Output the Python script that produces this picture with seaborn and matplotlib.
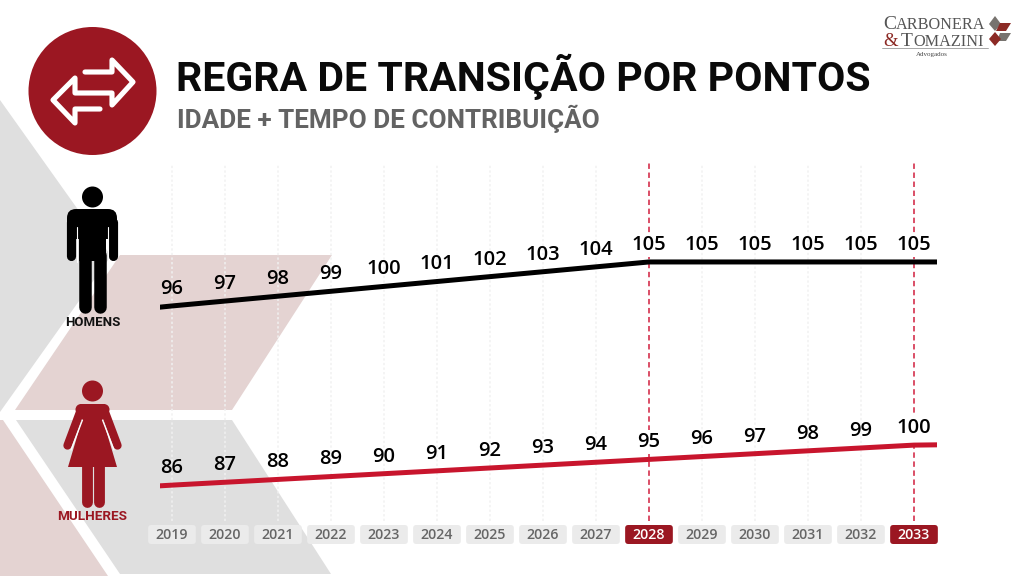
import pandas as pd
import matplotlib
matplotlib.use("Agg")
import matplotlib.pyplot as plt
from matplotlib.patches import Polygon, Circle, FancyBboxPatch, Rectangle
import seaborn as sns

years = [2019, 2020, 2021, 2022, 2023, 2024, 2025, 2026, 2027, 2028, 2029, 2030, 2031, 2032, 2033]
homens = [96, 97, 98, 99, 100, 101, 102, 103, 104, 105, 105, 105, 105, 105, 105]
mulheres = [86, 87, 88, 89, 90, 91, 92, 93, 94, 95, 96, 97, 98, 99, 100]
destaque = [2028, 2033]

# the drawn lines run a little past the first and last year
line_years = [2018.77] + years + [2033.43]
homens_line = [95.75] + homens + [105]
mulheres_line = [85.75] + mulheres + [100.1]

W, H = 1024, 576
RED = "#9b1722"
LINE_RED = "#c8152d"
GRAY_BG = "#dfdfdf"
PINK_BG = "#e4d3d2"
HEAD_FONT = ["Roboto", "DejaVu Sans"]
NUM_FONT = ["Open Sans", "DejaVu Sans"]

sns.set_theme(style="white")
plt.rcParams["font.family"] = ["Open Sans", "DejaVu Sans"]

fig = plt.figure(figsize=(W / 100, H / 100), dpi=100, facecolor="white")


def px_axes(x0, y0, x1, y1, z):
    ax = fig.add_axes([x0 / W, 1 - y1 / H, (x1 - x0) / W, (y1 - y0) / H], zorder=z)
    ax.patch.set_alpha(0)
    ax.axis("off")
    return ax


bg = px_axes(0, 0, W, H, 0)
bg.set_xlim(0, W)
bg.set_ylim(H, 0)

# background shapes
bg.add_patch(Polygon([(0, 100), (111, 256), (0, 412)], color=GRAY_BG, lw=0))
bg.add_patch(Polygon([(120, 255), (332, 255), (232, 410), (15, 410)], color=PINK_BG, lw=0))
bg.add_patch(Polygon([(16, 420), (232, 420), (331, 574), (120, 574)], color=GRAY_BG, lw=0))
bg.add_patch(Polygon([(0, 420), (3, 420), (108, 576), (0, 576)], color=PINK_BG, lw=0))

# icon with the two arrows
bg.add_patch(Circle((92.5, 91), 64, color=RED, lw=0))
arrows = [(85, 72), (112, 72), (112, 60), (133, 82), (112, 105), (112, 93), (75, 93),
          (75, 78), (53, 100), (75, 123), (75, 109), (100, 109)]
bg.plot(*zip(*arrows), color="white", lw=3.7, solid_capstyle="round", solid_joinstyle="round")

# titles
bg.text(176, 91, "REGRA DE TRANSIÇÃO POR PONTOS", fontsize=29.5, fontweight="bold",
        family=HEAD_FONT, color="#0a0a0a", va="baseline")
bg.text(177, 128, "IDADE + TEMPO DE CONTRIBUIÇÃO", fontsize=18.8, fontweight="bold",
        family=HEAD_FONT, color="#636363", va="baseline")

# man pictogram
bg.add_patch(Circle((92.5, 197), 10.5, color="black", lw=0))
bg.add_patch(FancyBboxPatch((67, 209), 50, 30, boxstyle="round,pad=0,rounding_size=9", color="black", lw=0))
bg.add_patch(Rectangle((79, 215), 27, 46, color="black", lw=0))
for x in (71.3, 112.7):
    bg.plot([x, x], [222, 256], color="black", lw=6.6, solid_capstyle="round")
for x in (85.2, 99.6):
    bg.plot([x, x], [255, 307], color="black", lw=9, solid_capstyle="round")
bg.plot([76.8, 76.8], [227, 262], color="white", lw=0.8)
bg.plot([107.6, 107.6], [227, 262], color="white", lw=0.8)
bg.text(92.5, 323, "HOMENS", fontsize=9.5, fontweight="bold", ha="center", va="center",
        color="#111111", family=HEAD_FONT)

# woman pictogram
bg.add_patch(Circle((92.5, 391), 10.5, color=RED, lw=0))
bg.add_patch(Circle((81, 409.5), 5.5, color=RED, lw=0))
bg.add_patch(Circle((104, 409.5), 5.5, color=RED, lw=0))
bg.plot([81, 67.5], [409.5, 445.5], color=RED, lw=6, solid_capstyle="round")
bg.plot([104, 117.5], [409.5, 445.5], color=RED, lw=6, solid_capstyle="round")
bg.add_patch(Polygon([(81, 404), (104, 404), (109, 410), (103, 420), (117, 467), (68, 467), (82, 420), (76, 410)],
                     color=RED, lw=0))
bg.plot([82.5, 71], [420, 450], color="white", lw=0.9)
bg.plot([102.5, 114], [420, 450], color="white", lw=0.9)
for x in (86.5, 98.5):
    bg.plot([x, x], [465, 502], color=RED, lw=7.8, solid_capstyle="round")
bg.text(92.5, 517, "MULHERES", fontsize=9.7, fontweight="bold", ha="center", va="center",
        color=RED, family=HEAD_FONT)

# logo, capitals a bit taller than the rest
bg.text(883, 29, "C", fontsize=14, family="Liberation Serif", color="#555555", va="baseline")
bg.text(896, 29, "ARBONERA", fontsize=11.7, family="Liberation Serif", color="#555555", va="baseline")
bg.text(883, 45.5, "&", fontsize=13.5, family="Liberation Serif", color="#8c2a25", va="baseline")
bg.text(901, 45.5, "T", fontsize=14, family="Liberation Serif", color="#555555", va="baseline")
bg.text(913, 45.5, "OMAZINI", fontsize=11.7, family="Liberation Serif", color="#555555", va="baseline")
bg.plot([882, 988], [47.5, 47.5], color="#999999", lw=0.6)
bg.text(932, 54.5, "Advogados", fontsize=5, family="Liberation Serif", color="#444444", ha="center", va="center")
bg.add_patch(Polygon([(989, 24), (995, 16), (1001, 24), (995, 31)], color="#77736f", lw=0))
bg.add_patch(Polygon([(1000, 23), (1011, 23), (1006, 31), (996, 31)], color="#8c2a25", lw=0))
bg.add_patch(Polygon([(1000, 33), (1011, 33), (1006, 41), (997, 41)], color="#77736f", lw=0))
bg.add_patch(Polygon([(989, 39), (995, 32), (1001, 39), (995, 46)], color="#8c2a25", lw=0))

# one scale per series, the two lines do not share slope in the original
x_lim = (2018.774, 2033.434)
ax_h = px_axes(160, 162, 937, 522, 2)
ax_m = px_axes(160, 162, 937, 522, 3)
ax_h.set_xlim(*x_lim)
ax_m.set_xlim(*x_lim)
ax_h.set_ylim(51.8, 125.45)
ax_m.set_ylim(73.1, 199.05)

ax_h.vlines([y for y in years if y not in destaque], 52, 125, color="#f1f1f1", lw=1.1, ls=(0, (1.5, 1.5)))
ax_h.vlines(destaque, 52, 125.45, color="#d8405a", lw=1.3, ls=(0, (3, 2)))

df_h = pd.DataFrame({"ano": line_years, "pontos": homens_line})
df_m = pd.DataFrame({"ano": line_years, "pontos": mulheres_line})
sns.lineplot(data=df_h, x="ano", y="pontos", ax=ax_h, color="black", lw=3.6, errorbar=None)
sns.lineplot(data=df_m, x="ano", y="pontos", ax=ax_m, color=LINE_RED, lw=3.6, errorbar=None)
for ax in (ax_h, ax_m):
    ax.axis("off")

for ax, vals in ((ax_h, homens), (ax_m, mulheres)):
    for yr, v in zip(years, vals):
        box = dict(fc="white", ec="none", pad=1.5) if yr in destaque else None
        ax.annotate(str(v), (yr, v), xytext=(0, 12.3), textcoords="offset points", ha="center", va="center",
                    fontsize=14.5, fontweight="semibold", color="black", family=NUM_FONT, bbox=box)

# year strip
strip = px_axes(160, 525, 937, 544, 4)
strip.set_xlim(*x_lim)
strip.set_ylim(0, 1)
for yr in years:
    on = yr in destaque
    strip.add_patch(FancyBboxPatch((yr - 0.45, 0), 0.9, 1, boxstyle="round,pad=0,rounding_size=0.06",
                                   mutation_aspect=53 / 19, color=RED if on else "#ebebeb", lw=0, clip_on=False))
    strip.text(yr, 0.47, str(yr), ha="center", va="center", fontsize=10.2, fontweight="semibold",
               color="white" if on else "#666666", family=NUM_FONT)

fig.savefig("out.png", dpi=100)
